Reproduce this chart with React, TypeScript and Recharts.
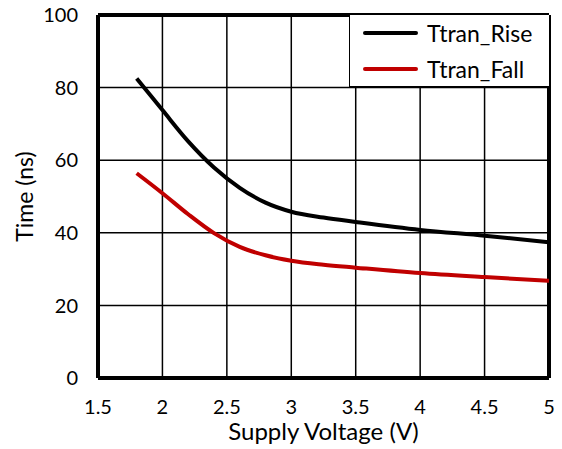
import React from 'react';
import { LineChart, Line, XAxis, YAxis, CartesianGrid, ReferenceLine } from 'recharts';

const voltages = [1.8, 2.0, 2.2, 2.4, 2.6, 2.8, 3.0, 3.25, 3.5, 4.0, 4.5, 5.0];
const riseValues = [82.5, 73.8, 65.2, 58, 52.4, 48.3, 45.8, 44.2, 43, 40.8, 39.2, 37.4];
const fallValues = [56.4, 50.9, 45.1, 39.9, 36.1, 33.8, 32.3, 31.2, 30.4, 28.9, 27.8, 26.8];
const xTicks = [1.5, 2, 2.5, 3, 3.5, 4, 4.5, 5];
const yTicks = [0, 20, 40, 60, 80, 100];
const seriesNames = ['Ttran_Rise', 'Ttran_Fall'];
const seriesColors = ['#000000', '#c00000'];

const data = voltages.map((v, i) => ({ v, rise: riseValues[i], fall: fallValues[i] }));

const FONT = 'Lato, "Open Sans", sans-serif';

const LegendBox = () => (
  <div
    style={{
      position: 'absolute',
      left: 349,
      top: 15,
      width: 200,
      height: 72,
      boxSizing: 'border-box',
      borderLeft: '1.5px solid #000',
      borderBottom: '1.5px solid #000',
      background: '#fff',
      fontFamily: FONT,
      fontSize: 23,
      color: '#000',
      paddingTop: 0,
    }}
  >
    {seriesNames.map((n, i) => (
      <div key={n} style={{ display: 'flex', alignItems: 'center', height: 36, paddingLeft: 13 }}>
        <div style={{ width: 55, height: 4.5, borderRadius: 2.5, background: seriesColors[i], marginRight: 9 }} />
        <span style={{ lineHeight: '36px' }}>{n}</span>
      </div>
    ))}
  </div>
);

export default function App() {
  return (
    <div style={{ position: 'absolute', left: 0, top: 0, width: 562, height: 449, background: '#fff' }}>
      <LineChart width={562} height={449} data={data} margin={{ top: 15, right: 13, bottom: 0, left: 0 }}>
        <CartesianGrid stroke="#000" strokeWidth={1.5} />
        <XAxis
          dataKey="v"
          type="number"
          domain={[1.5, 5]}
          ticks={xTicks}
          height={71}
          tickLine={false}
          axisLine={false}
          tickSize={0}
          tickMargin={22}
          tick={{ fill: '#000', fontSize: 20, fontFamily: FONT }}
          label={{ value: 'Supply Voltage (V)', position: 'insideBottom', offset: 9, fill: '#000', fontSize: 24, fontFamily: FONT }}
        />
        <YAxis
          type="number"
          domain={[0, 100]}
          ticks={yTicks}
          width={98}
          tickLine={false}
          axisLine={false}
          tickSize={0}
          tickMargin={20}
          tick={{ fill: '#000', fontSize: 20, fontFamily: FONT }}
          label={{ value: 'Time (ns)', angle: -90, position: 'insideLeft', offset: 25, fill: '#000', fontSize: 23, fontFamily: FONT, style: { textAnchor: 'middle' } }}
        />
        <ReferenceLine y={0} stroke="#000" strokeWidth={4} ifOverflow="visible" />
        <ReferenceLine y={100} stroke="#000" strokeWidth={4} ifOverflow="visible" />
        <ReferenceLine x={1.5} stroke="#000" strokeWidth={4} ifOverflow="visible" />
        <ReferenceLine x={5} stroke="#000" strokeWidth={4} ifOverflow="visible" />
        <Line type="monotone" dataKey="rise" name={seriesNames[0]} stroke={seriesColors[0]} strokeWidth={4} dot={false} isAnimationActive={false} />
        <Line type="monotone" dataKey="fall" name={seriesNames[1]} stroke={seriesColors[1]} strokeWidth={4} dot={false} isAnimationActive={false} />
      </LineChart>
      <LegendBox />
    </div>
  );
}
